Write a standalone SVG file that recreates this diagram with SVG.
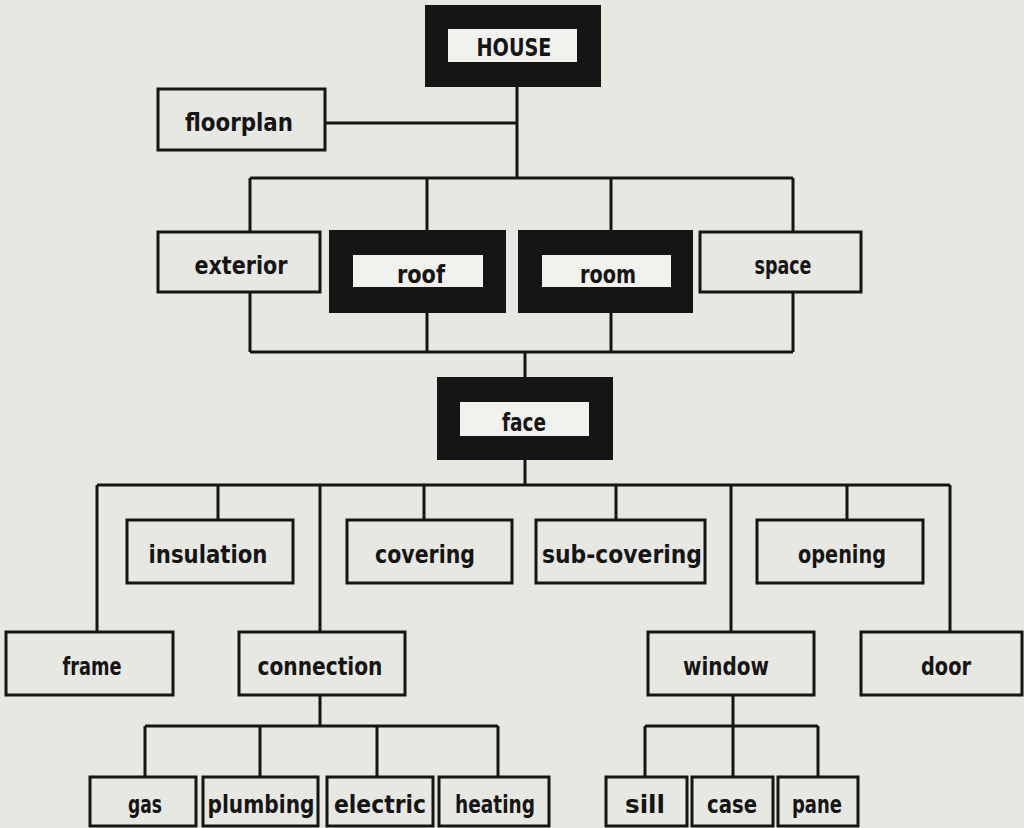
<svg xmlns="http://www.w3.org/2000/svg" width="1024" height="828" viewBox="0 0 1024 828">
  <style>
    .bg { fill: #e8e8e3; }
    .box { fill: #e8e8e3; stroke: #151515; stroke-width: 3; }
    .hl { fill: #151515; }
    .inner { fill: #f1f1ed; }
    .lbl { font-family: "DejaVu Sans Condensed", "DejaVu Sans", "Liberation Sans", sans-serif; font-stretch: condensed; font-weight: bold; font-size: 25px; fill: #151515; text-anchor: middle; }
    .conn { fill: none; stroke: #151515; stroke-width: 3; }
  </style>
  <rect class="bg" x="0" y="0" width="1024" height="828"/>

  <!-- tree connectors -->
  <g id="connectors" class="conn">
    <!-- HOUSE trunk and floorplan branch -->
    <path d="M517 87 V178 M325 123 H517"/>
    <!-- upper bus to exterior / roof / room / space -->
    <path d="M250 178 H793 M250 178 V232 M427 178 V230 M611 178 V230 M793 178 V232"/>
    <!-- lower bus gathering into face -->
    <path d="M250 292 V352 M427 313 V352 M611 313 V352 M793 292 V352 M250 352 H793 M525 352 V377"/>
    <!-- face children bus -->
    <path d="M525 460 V485 M97 485 H950"/>
    <path d="M97 485 V632 M218 485 V520 M320 485 V632 M424 485 V520 M616 485 V520 M731 485 V632 M847 485 V520 M950 485 V632"/>
    <!-- connection children -->
    <path d="M320 695 V726 M145 726 H498 M145 726 V777 M260 726 V777 M377 726 V777 M498 726 V777"/>
    <!-- window children -->
    <path d="M733 695 V726 M645 726 H818 M645 726 V777 M733 726 V777 M818 726 V777"/>
  </g>

  <g id="house">
    <rect class="hl" x="425" y="5" width="176" height="82"/>
    <rect class="inner" x="448" y="29" width="129" height="33"/>
    <text class="lbl" x="514" y="56" textLength="75" lengthAdjust="spacingAndGlyphs">HOUSE</text>
  </g>
  <g id="floorplan">
    <rect class="box" x="158" y="89" width="167" height="61"/>
    <text class="lbl" x="239" y="131" textLength="108" lengthAdjust="spacingAndGlyphs">floorplan</text>
  </g>

  <g id="exterior">
    <rect class="box" x="158" y="232" width="162" height="60"/>
    <text class="lbl" x="241" y="274" textLength="93" lengthAdjust="spacingAndGlyphs">exterior</text>
  </g>
  <g id="roof">
    <rect class="hl" x="329" y="230" width="177" height="83"/>
    <rect class="inner" x="353" y="255" width="130" height="32"/>
    <text class="lbl" x="421" y="283" textLength="48" lengthAdjust="spacingAndGlyphs">roof</text>
  </g>
  <g id="room">
    <rect class="hl" x="518" y="230" width="175" height="83"/>
    <rect class="inner" x="542" y="255" width="129" height="32"/>
    <text class="lbl" x="608" y="283" textLength="56" lengthAdjust="spacingAndGlyphs">room</text>
  </g>
  <g id="space">
    <rect class="box" x="700" y="232" width="161" height="60"/>
    <text class="lbl" x="783" y="274" textLength="57" lengthAdjust="spacingAndGlyphs">space</text>
  </g>

  <g id="face">
    <rect class="hl" x="437" y="377" width="176" height="83"/>
    <rect class="inner" x="460" y="402" width="129" height="34"/>
    <text class="lbl" x="524" y="431" textLength="44" lengthAdjust="spacingAndGlyphs">face</text>
  </g>

  <g id="insulation">
    <rect class="box" x="127" y="520" width="166" height="63"/>
    <text class="lbl" x="208" y="563" textLength="119" lengthAdjust="spacingAndGlyphs">insulation</text>
  </g>
  <g id="covering">
    <rect class="box" x="347" y="520" width="165" height="63"/>
    <text class="lbl" x="425" y="563" textLength="100" lengthAdjust="spacingAndGlyphs">covering</text>
  </g>
  <g id="sub-covering">
    <rect class="box" x="536" y="520" width="169" height="63"/>
    <text class="lbl" x="622" y="563" textLength="160" lengthAdjust="spacingAndGlyphs">sub-covering</text>
  </g>
  <g id="opening">
    <rect class="box" x="757" y="520" width="166" height="63"/>
    <text class="lbl" x="842" y="563" textLength="88" lengthAdjust="spacingAndGlyphs">opening</text>
  </g>

  <g id="frame">
    <rect class="box" x="6" y="632" width="167" height="63"/>
    <text class="lbl" x="92" y="675" textLength="59" lengthAdjust="spacingAndGlyphs">frame</text>
  </g>
  <g id="connection">
    <rect class="box" x="239" y="632" width="166" height="63"/>
    <text class="lbl" x="320" y="675" textLength="125" lengthAdjust="spacingAndGlyphs">connection</text>
  </g>
  <g id="window">
    <rect class="box" x="648" y="632" width="166" height="63"/>
    <text class="lbl" x="726" y="675" textLength="86" lengthAdjust="spacingAndGlyphs">window</text>
  </g>
  <g id="door">
    <rect class="box" x="861" y="632" width="161" height="63"/>
    <text class="lbl" x="946" y="675" textLength="50" lengthAdjust="spacingAndGlyphs">door</text>
  </g>

  <g id="gas">
    <rect class="box" x="90" y="777" width="106" height="49"/>
    <text class="lbl" x="145" y="813" textLength="34" lengthAdjust="spacingAndGlyphs">gas</text>
  </g>
  <g id="plumbing">
    <rect class="box" x="203" y="777" width="115" height="49"/>
    <text class="lbl" x="261" y="813" textLength="107" lengthAdjust="spacingAndGlyphs">plumbing</text>
  </g>
  <g id="electric">
    <rect class="box" x="327" y="777" width="106" height="49"/>
    <text class="lbl" x="380" y="813" textLength="92" lengthAdjust="spacingAndGlyphs">electric</text>
  </g>
  <g id="heating">
    <rect class="box" x="439" y="777" width="110" height="49"/>
    <text class="lbl" x="495" y="813" textLength="80" lengthAdjust="spacingAndGlyphs">heating</text>
  </g>

  <g id="sill">
    <rect class="box" x="606" y="777" width="81" height="49"/>
    <text class="lbl" x="645" y="813" textLength="40" lengthAdjust="spacingAndGlyphs">sill</text>
  </g>
  <g id="case">
    <rect class="box" x="692" y="777" width="81" height="49"/>
    <text class="lbl" x="732" y="813" textLength="50" lengthAdjust="spacingAndGlyphs">case</text>
  </g>
  <g id="pane">
    <rect class="box" x="778" y="777" width="80" height="49"/>
    <text class="lbl" x="817" y="813" textLength="50" lengthAdjust="spacingAndGlyphs">pane</text>
  </g>
</svg>
